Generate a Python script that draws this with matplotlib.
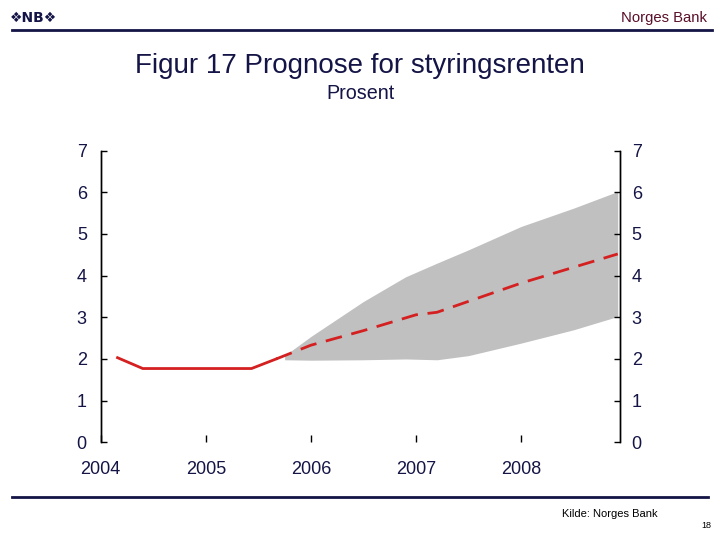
import matplotlib
matplotlib.use("Agg")
import matplotlib.pyplot as plt

plt.rcParams['font.family'] = ['Liberation Sans', 'DejaVu Sans']

# Historical policy rate (decimal years)
hist_x = [2004.16, 2004.40, 2005.435, 2005.67]
hist_y = [2.03, 1.77, 1.77, 2.00]

# Forecast (dashed)
fc_x = [2005.67, 2006.0, 2006.5, 2007.0, 2007.2, 2008.0, 2008.92]
fc_y = [2.00, 2.33, 2.68, 3.06, 3.12, 3.82, 4.52]

# Uncertainty band
band_x = [2005.75, 2006.0, 2006.5, 2006.9, 2007.2, 2007.5, 2008.0, 2008.5, 2008.92]
band_lo = [1.98, 1.97, 1.98, 2.00, 1.98, 2.08, 2.38, 2.70, 3.02]
band_hi = [2.08, 2.54, 3.38, 3.97, 4.30, 4.62, 5.18, 5.62, 6.02]

years = [2004, 2005, 2006, 2007, 2008]
yticks = [0, 1, 2, 3, 4, 5, 6, 7]

navy = '#141446'
red = '#d42020'

fig = plt.figure(figsize=(7.2, 5.4), dpi=100)
ax = fig.add_axes([0.1399, 0.181, 0.721, 0.540])

ax.fill_between(band_x, band_lo, band_hi, color='#c0c0c0', linewidth=0)
ax.plot(hist_x, hist_y, color=red, linewidth=2)
ax.plot(fc_x, fc_y, color=red, linewidth=2, dashes=(6, 3.5))

ax.set_xlim(2004, 2008.94)
ax.set_ylim(0, 7)
ax.set_xticks(years)
ax.set_xticklabels([str(y) for y in years])
ax.set_yticks(yticks)

# right-hand axis with its own label spacing
ax2 = ax.twinx()
ax2.set_ylim(0, 7)
ax2.set_yticks(yticks)

for a in [ax, ax2]:
    for s in ['top', 'bottom']:
        a.spines[s].set_visible(False)
    for s in ['left', 'right']:
        a.spines[s].set_linewidth(1)

ax.tick_params(axis='y', direction='in', length=4, width=1, labelsize=13,
               labelcolor=navy, pad=10)
ax2.tick_params(axis='y', direction='in', length=4, width=1, labelsize=13,
                labelcolor=navy, pad=8.5)
ax.tick_params(axis='x', direction='in', length=5, width=1, labelsize=13,
               labelcolor=navy, pad=13.5)

# Titles
fig.text(0.5, 0.877, 'Figur 17 Prognose for styringsrenten', ha='center', va='center',
         fontsize=20, color=navy)
fig.text(0.5, 0.826, 'Prosent', ha='center', va='center', fontsize=14.2, color=navy)

# Header and footer
fig.text(0.982, 0.967, 'Norges Bank', ha='right', va='center', fontsize=10.7, color='#5a0f2a')
fig.text(0.014, 0.967, '❖NB❖', ha='left', va='center', fontsize=10, fontweight='bold',
         color=navy, family=['DejaVu Sans'])
fig.add_artist(plt.Line2D([0.017, 0.989], [0.944, 0.944], color=navy, linewidth=2))
fig.add_artist(plt.Line2D([0.017, 0.983], [0.080, 0.080], color=navy, linewidth=2))
fig.text(0.847, 0.048, 'Kilde: Norges Bank', ha='center', va='center', fontsize=8, color='black')
fig.text(0.9875, 0.026, '18', ha='right', va='center', fontsize=6.5, color='black')

fig.savefig('out.png', dpi=100)
